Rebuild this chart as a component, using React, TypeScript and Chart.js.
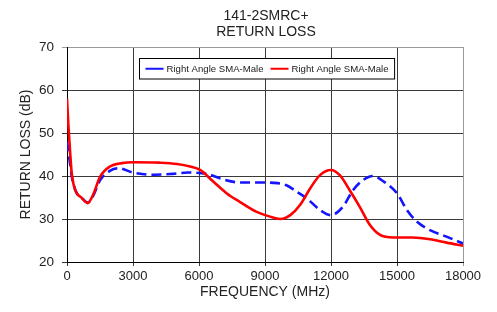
import React, { useEffect, useRef } from 'react';
import { Chart, registerables } from 'chart.js';

Chart.register(...registerables);

const TITLE_LINES = ['141-2SMRC+', 'RETURN LOSS'];
const X_TITLE = 'FREQUENCY (MHz)';
const Y_TITLE = 'RETURN LOSS (dB)';
const SERIES_NAMES = ['Right Angle SMA-Male', 'Right Angle SMA-Male'];
const SERIES_COLORS = ['#1414ff', '#ff0000'];

const X_MIN = 0;
const X_MAX = 18000;
const X_STEP = 3000;
const Y_MIN = 20;
const Y_MAX = 70;
const Y_STEP = 10;

const blueFreq = [0, 136, 213, 300, 440, 650, 940, 1200, 1500, 1950, 2350, 3000, 3500, 4000, 4800, 5500, 6350, 7100, 7850, 8600, 9400, 9950, 10400, 10900, 11500, 12000, 12550, 13000, 13450, 13900, 14400, 15000, 15450, 15900, 16500, 17250, 18000];
const blueLoss = [48, 43, 40, 38, 36, 35, 33.8, 35.5, 39, 41.2, 41.8, 40.8, 40.4, 40.3, 40.5, 40.8, 40.5, 39.2, 38.5, 38.5, 38.4, 37.9, 36.5, 34.8, 32.1, 30.9, 32.9, 36.7, 39, 40, 38.7, 36, 32.1, 29.4, 27.4, 25.9, 24.3];

const redFreq = [0, 60, 136, 213, 300, 440, 650, 940, 1200, 1500, 1950, 2500, 3000, 4200, 5000, 5600, 6050, 6650, 7250, 7850, 8600, 9400, 9700, 10150, 10600, 11050, 11500, 12000, 12400, 12850, 13300, 13770, 14230, 14830, 15700, 16500, 17250, 18000];
const redLoss = [58, 52, 46, 40.7, 38, 36, 35, 33.7, 35.8, 39.8, 42.2, 43, 43.2, 43.1, 42.8, 42.2, 41.4, 38.7, 36, 34, 31.7, 30.3, 30, 30.9, 33.3, 37.1, 40.2, 41.4, 40.2, 36.7, 32.9, 28.6, 26.3, 25.7, 25.7, 25.3, 24.5, 23.8];

const FONT = "'Liberation Sans', Arial, Helvetica, sans-serif";
const TEXT_COLOR = '#222222';

const toPoints = (xs: number[], ys: number[]) => xs.map((x, i) => ({ x, y: ys[i] }));

const titlePlugin = {
  id: 'customTitle',
  afterDraw(chart: any) {
    const { ctx, chartArea } = chart;
    const cx = (chartArea.left + chartArea.right) / 2 + 1;
    ctx.save();
    ctx.fillStyle = TEXT_COLOR;
    ctx.font = `14px ${FONT}`;
    ctx.textAlign = 'center';
    ctx.textBaseline = 'alphabetic';
    ctx.fillText(TITLE_LINES[0], cx, 12);
    ctx.fillText(TITLE_LINES[1], cx, 28);
    ctx.restore();
  },
};

const legendPlugin = {
  id: 'boxLegend',
  afterDatasetsDraw(chart: any) {
    const { ctx, chartArea } = chart;
    const lineLen = 18;
    const gapLT = 3;
    const gapItems = 7;
    const padX = 6;
    ctx.save();
    ctx.font = `9.6px ${FONT}`;
    const widths = SERIES_NAMES.map((n) => ctx.measureText(n).width);
    const total = padX * 2 + widths.reduce((a, w) => a + lineLen + gapLT + w, 0) + gapItems * (SERIES_NAMES.length - 1);
    const cx = (chartArea.left + chartArea.right) / 2 + 2;
    const left = Math.round(cx - total / 2) + 0.5;
    const top = 50.5;
    const h = 20.5;
    ctx.fillStyle = '#ffffff';
    ctx.fillRect(left, top, total, h);
    ctx.strokeStyle = '#000000';
    ctx.lineWidth = 1;
    ctx.strokeRect(left, top, total, h);
    let x = left + padX;
    const cy = top + h / 2;
    SERIES_NAMES.forEach((n, i) => {
      ctx.strokeStyle = SERIES_COLORS[i];
      ctx.lineWidth = 2;
      ctx.beginPath();
      ctx.moveTo(x, cy);
      ctx.lineTo(x + lineLen, cy);
      ctx.stroke();
      x += lineLen + gapLT;
      ctx.fillStyle = TEXT_COLOR;
      ctx.textAlign = 'left';
      ctx.textBaseline = 'middle';
      ctx.fillText(n, x, cy + 0.5);
      x += widths[i] + gapItems;
    });
    ctx.restore();
  },
};

export default function App() {
  const ref = useRef<HTMLCanvasElement | null>(null);

  useEffect(() => {
    if (!ref.current) return;
    const gridColor = (ctx: any, maxVal: number) =>
      ctx.tick && ctx.tick.value === maxVal ? '#9a9a9a' : '#3a3a3a';
    const chart = new Chart(ref.current, {
      type: 'line',
      data: {
        datasets: [
          {
            label: SERIES_NAMES[0],
            data: toPoints(blueFreq, blueLoss),
            borderColor: SERIES_COLORS[0],
            borderWidth: 2.6,
            borderDash: [10, 5],
            pointRadius: 0,
            cubicInterpolationMode: 'monotone',
            fill: false,
            order: 1,
          },
          {
            label: SERIES_NAMES[1],
            data: toPoints(redFreq, redLoss),
            borderColor: SERIES_COLORS[1],
            borderWidth: 2.6,
            pointRadius: 0,
            cubicInterpolationMode: 'monotone',
            fill: false,
            order: 0,
          },
        ],
      },
      options: {
        responsive: false,
        animation: false,
        layout: { padding: { top: 39, right: 26, left: 0, bottom: 0 } },
        plugins: {
          legend: { display: false },
          title: { display: false },
          tooltip: { enabled: false },
        },
        scales: {
          x: {
            type: 'linear',
            min: X_MIN,
            max: X_MAX,
            afterFit: (s: any) => {
              s.height = 42;
            },
            ticks: {
              stepSize: X_STEP,
              color: TEXT_COLOR,
              font: { family: FONT, size: 13 },
              padding: 3,
              maxRotation: 0,
              autoSkip: false,
              callback: (v: any) => String(v),
            },
            grid: {
              color: (ctx: any) => gridColor(ctx, X_MAX),
              lineWidth: 1,
              tickLength: 4,
              drawTicks: true,
            },
            border: { display: true, color: '#000000', width: 1 },
            title: {
              display: true,
              text: X_TITLE,
              color: TEXT_COLOR,
              font: { family: FONT, size: 14 },
              padding: { top: 0, bottom: 3 },
            },
          },
          y: {
            min: Y_MIN,
            max: Y_MAX,
            afterFit: (s: any) => {
              s.width = 59;
            },
            ticks: {
              stepSize: Y_STEP,
              color: TEXT_COLOR,
              font: { family: FONT, size: 13.5 },
              padding: 8,
              callback: (v: any) => String(v),
            },
            grid: {
              color: (ctx: any) => gridColor(ctx, Y_MAX),
              lineWidth: 1,
              tickLength: 5,
              drawTicks: true,
            },
            border: { display: true, color: '#000000', width: 1 },
            title: {
              display: true,
              text: Y_TITLE,
              color: TEXT_COLOR,
              font: { family: FONT, size: 14 },
              padding: { top: 10, bottom: 0 },
            },
          },
        },
      },
      plugins: [titlePlugin, legendPlugin],
    } as any);
    return () => chart.destroy();
  }, []);

  return <canvas ref={ref} width={481} height={296} style={{ display: 'block' }} />;
}
